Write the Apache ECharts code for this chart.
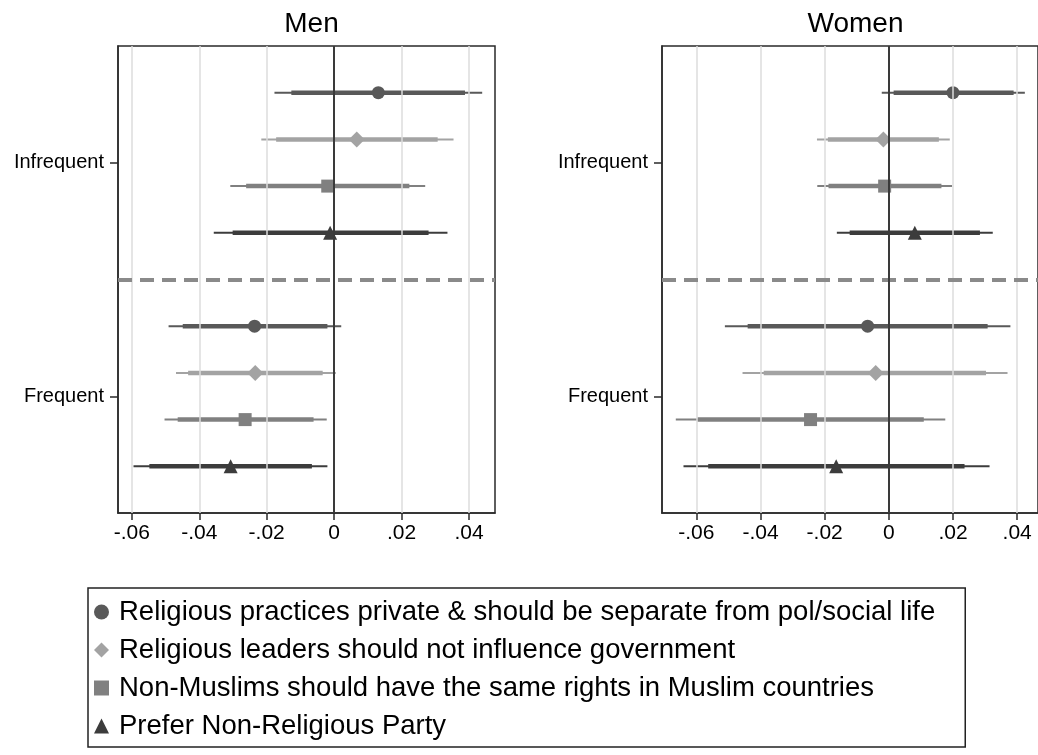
<!DOCTYPE html>
<html>
<head>
<meta charset="utf-8">
<script src="https://cdn.jsdelivr.net/npm/echarts@6/dist/echarts.min.js"></script>
<style>html,body{margin:0;padding:0;background:#fff;}#c{width:1038px;height:755px;}</style>
</head>
<body>
<div id="c"></div>
<script>
// ---- data ----
const panels = ['Men', 'Women'];
const groups = ['Infrequent', 'Frequent'];
const measures = [
  'Religious practices private & should be separate from pol/social life',
  'Religious leaders should not influence government',
  'Non-Muslims should have the same rights in Muslim countries',
  'Prefer Non-Religious Party'
];
const tickValues = [-0.06, -0.04, -0.02, 0, 0.02, 0.04];
const tickLabels = ['-.06', '-.04', '-.02', '0', '.02', '.04'];

// each row: [Infrequent, Frequent]
const menEst  = [[0.0131, -0.0236], [0.0067, -0.0234], [-0.0019, -0.0264], [-0.0012, -0.0307]];
const menLo95 = [[-0.0177, -0.0491], [-0.0216, -0.0469], [-0.0308, -0.0503], [-0.0357, -0.0595]];
const menHi95 = [[0.0439, 0.0021], [0.0354, 0.0005], [0.0270, -0.0022], [0.0336, -0.0020]];
const menLo90 = [[-0.0127, -0.0449], [-0.0172, -0.0433], [-0.0261, -0.0464], [-0.0301, -0.0548]];
const menHi90 = [[0.0388, -0.0020], [0.0307, -0.0034], [0.0223, -0.0061], [0.0280, -0.0066]];

const womenEst  = [[0.0200, -0.0066], [-0.0017, -0.0041], [-0.0013, -0.0244], [0.0081, -0.0164]];
const womenLo95 = [[-0.0022, -0.0511], [-0.0224, -0.0456], [-0.0223, -0.0664], [-0.0162, -0.0640]];
const womenHi95 = [[0.0424, 0.0379], [0.0190, 0.0370], [0.0197, 0.0176], [0.0324, 0.0314]];
const womenLo90 = [[0.0015, -0.0440], [-0.0190, -0.0390], [-0.0188, -0.0597], [-0.0122, -0.0563]];
const womenHi90 = [[0.0389, 0.0308], [0.0156, 0.0303], [0.0164, 0.0109], [0.0284, 0.0236]];

const xRanges = [[-0.0641, 0.0477], [-0.0707, 0.0465]];

// ---- styling ----
const colors = ['#595959', '#a3a3a3', '#808080', '#3c3c3c'];
const symbols = ['circle', 'diamond', 'rect', 'triangle'];
const symbolSizes = [13, 16, 13, 14];
const FONT = 'Liberation Sans, Arial, sans-serif';

const panelData = [
  {est: menEst, lo95: menLo95, hi95: menHi95, lo90: menLo90, hi90: menHi90},
  {est: womenEst, lo95: womenLo95, hi95: womenHi95, lo90: womenLo90, hi90: womenHi90}
];
const gridsPx = [
  {left: 118, top: 46, width: 377, height: 467},
  {left: 662, top: 46, width: 377, height: 467}
];
const rowsPerGroup = measures.length + 1;
const yMax = groups.length * rowsPerGroup;
const groupCenters = groups.map((g, i) => i * rowsPerGroup + (measures.length + 1) / 2);
const separators = groups.slice(1).map((g, i) => (i + 1) * rowsPerGroup);

const grid = [], xAxis = [], yAxis = [], series = [], title = [];
panels.forEach((p, pi) => {
  const g = gridsPx[pi];
  grid.push(Object.assign({show: true, borderColor: '#2a2a2a', borderWidth: 1.5, backgroundColor: '#fff', containLabel: false}, g));
  title.push({text: p, left: g.left + g.width / 2, top: 5, textAlign: 'center',
    textStyle: {fontFamily: FONT, fontSize: 28, fontWeight: 'normal', color: '#000'}});
  xAxis.push({
    type: 'value', gridIndex: pi, min: xRanges[pi][0], max: xRanges[pi][1],
    axisLine: {show: true, onZero: false, lineStyle: {color: '#2a2a2a', width: 1.5}},
    axisTick: {show: true, length: 7, customValues: tickValues, lineStyle: {color: '#2a2a2a', width: 1.5}},
    axisLabel: {customValues: tickValues, margin: 10, fontFamily: FONT, fontSize: 21, color: '#000',
      formatter: v => { const k = tickValues.findIndex(t => Math.abs(t - v) < 1e-9); return k >= 0 ? tickLabels[k] : ''; }},
    splitLine: {show: false}
  });
  yAxis.push({
    type: 'value', gridIndex: pi, min: 0, max: yMax, inverse: true,
    axisLine: {show: true, onZero: false, lineStyle: {color: '#2a2a2a', width: 1.5}},
    axisTick: {show: true, length: 8, customValues: groupCenters, lineStyle: {color: '#2a2a2a', width: 1.5}},
    axisLabel: {customValues: groupCenters, margin: 14, fontFamily: FONT, fontSize: 20, color: '#000',
      formatter: v => { const k = groupCenters.findIndex(c => Math.abs(c - v) < 1e-9); return k >= 0 ? groups[k] : ''; }},
    splitLine: {show: false}
  });
  // background reference lines
  const ml = tickValues.filter(t => t !== 0).map(t => ({xAxis: t, lineStyle: {color: '#dddddd', width: 1.5, type: 'solid'}}));
  separators.forEach(s => ml.push({yAxis: s, lineStyle: {color: '#8a8a8a', width: 4, type: [14, 8]}}));
  ml.push({xAxis: 0, lineStyle: {color: '#3a3a3a', width: 2, type: 'solid'}});
  series.push({
    type: 'scatter', xAxisIndex: pi, yAxisIndex: pi, data: [], silent: true, z: 1,
    markLine: {silent: true, symbol: ['none', 'none'], label: {show: false}, animation: false, data: ml}
  });
  const d = panelData[pi];
  measures.forEach((m, mi) => {
    const ciData = groups.map((gname, gi) => [d.lo95[mi][gi], d.hi95[mi][gi], d.lo90[mi][gi], d.hi90[mi][gi], gi * rowsPerGroup + mi + 1]);
    series.push({
      type: 'custom', name: m + ' CI', xAxisIndex: pi, yAxisIndex: pi, z: 3, silent: true,
      data: ciData,
      renderItem: (params, api) => {
        const y = api.value(4);
        const a = api.coord([api.value(0), y]), b = api.coord([api.value(1), y]);
        const c = api.coord([api.value(2), y]), e = api.coord([api.value(3), y]);
        return {type: 'group', children: [
          {type: 'line', shape: {x1: a[0], y1: a[1], x2: b[0], y2: b[1]}, style: {stroke: colors[mi], lineWidth: 2}},
          {type: 'line', shape: {x1: c[0], y1: c[1], x2: e[0], y2: e[1]}, style: {stroke: colors[mi], lineWidth: 4.5}}
        ]};
      }
    });
    series.push({
      type: 'scatter', name: m, xAxisIndex: pi, yAxisIndex: pi, z: 4,
      symbol: symbols[mi], symbolSize: symbolSizes[mi],
      itemStyle: {color: colors[mi], opacity: 1},
      data: groups.map((gname, gi) => [d.est[mi][gi], gi * rowsPerGroup + mi + 1])
    });
  });
});

const option = {
  animation: false,
  backgroundColor: '#fff',
  textStyle: {fontFamily: FONT},
  title: title,
  grid: grid, xAxis: xAxis, yAxis: yAxis, series: series,
  legend: {
    orient: 'vertical', left: 88, top: 588,
    data: measures.map((m, mi) => ({name: m, icon: symbols[mi], itemStyle: {color: colors[mi]}})),
    itemWidth: 15, itemHeight: 15, itemGap: 10,
    textStyle: {fontFamily: FONT, fontSize: 27.5, color: '#000', padding: [0, 0, 0, 5]},
    borderColor: '#222', borderWidth: 1.5, padding: [10, 30, 7, 6],
    selectedMode: false
  }
};
echarts.init(document.getElementById('c'), null, {renderer: 'canvas'}).setOption(option);
</script>
</body>
</html>
